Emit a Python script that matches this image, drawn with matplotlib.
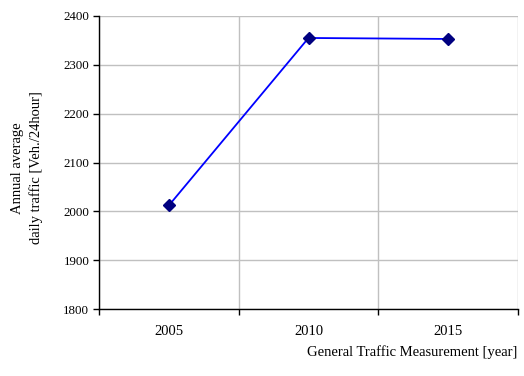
import matplotlib
matplotlib.use("Agg")
import matplotlib.pyplot as plt
import numpy as np

years = ["2005", "2010", "2015"]
traffic = [2012, 2355, 2353]
y_ticks = [1800, 1900, 2000, 2100, 2200, 2300, 2400]

plt.rcParams['font.family'] = ['Liberation Serif', 'DejaVu Serif']

fig = plt.figure(figsize=(5.24, 3.76), dpi=100)
ax = fig.add_axes([99/524, 1 - 309/376, (518-99)/524, (309-16)/376])

x = np.arange(len(years))
ax.plot(x, traffic, color='#0000FF', lw=1.3, marker='D', markersize=6,
        markerfacecolor='#000080', markeredgecolor='#000080', zorder=3)

ax.set_xlim(-0.5, len(years) - 0.5)
ax.set_ylim(1800, 2400)
ax.set_yticks(y_ticks)
ax.set_yticklabels([str(v) for v in y_ticks], fontsize=9.3)

# category boundaries as major ticks, labels at centers via minor ticks
ax.set_xticks(np.arange(-0.5, len(years)), minor=False)
ax.set_xticklabels([])
ax.set_xticks(x, minor=True)
ax.set_xticklabels(years, minor=True, fontsize=10.5)
ax.tick_params(axis='x', which='minor', length=0, pad=11.5)
ax.tick_params(axis='x', which='major', length=4, width=1, color='black', direction='out')
ax.tick_params(axis='y', length=4, width=1, direction='out', pad=3)

ax.grid(True, which='major', color='#C0C0C0', lw=1)
ax.set_axisbelow(True)
for s in ['top', 'right']:
    ax.spines[s].set_visible(False)
for s in ['left', 'bottom']:
    ax.spines[s].set_color('black')
    ax.spines[s].set_linewidth(1)

fig.text(517/524, 1 - 352/376, "General Traffic Measurement [year]", fontsize=10.5,
         ha='right', va='center')
fig.text(27/524, 1 - 168/376, "Annual average\ndaily traffic [Veh./24hour]", fontsize=10.5,
         rotation=90, ha='center', va='center', multialignment='center', linespacing=1.4)

fig.savefig("out.png", dpi=100)
